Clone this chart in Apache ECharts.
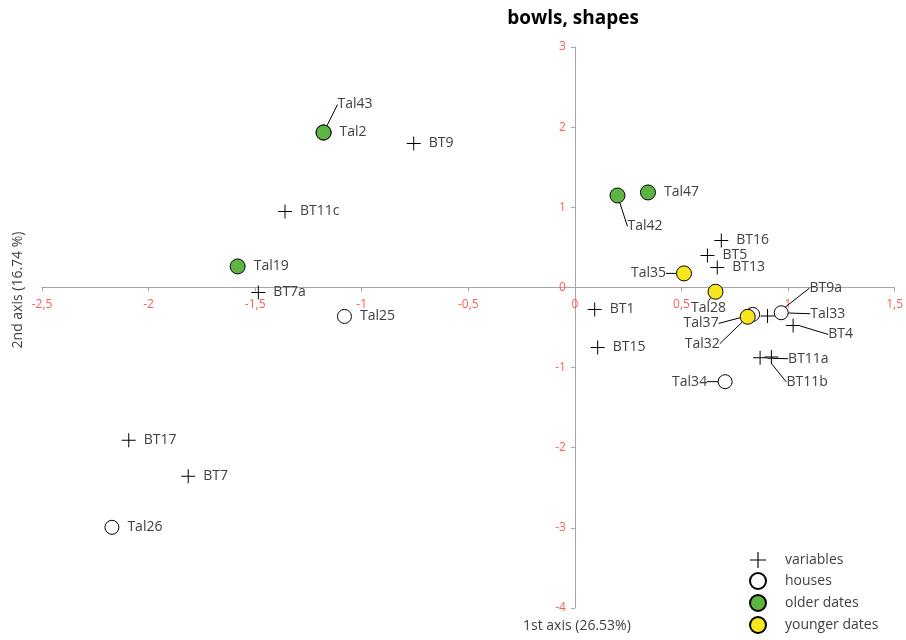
<!DOCTYPE html>
<html>
<head>
<meta charset="utf-8">
<title>bowls, shapes</title>
<script src="https://cdn.jsdelivr.net/npm/echarts@6/dist/echarts.min.js"></script>
<style>
  html, body { margin: 0; padding: 0; background: #fff; }
  #chart { width: 906px; height: 640px; }
</style>
</head>
<body>
<div id="chart"></div>
<script>
// Correspondence analysis of bowl shapes: variables and houses on the first two axes.
const chartTitle = 'bowls, shapes';
const xAxisTitle = '1st axis (26.53%)';
const yAxisTitle = '2nd axis (16.74 %)';
const xTicks = { min: -2.5, max: 1.5, step: 0.5 };
const yTicks = { min: -4, max: 3, step: 1 };

// variables (shape attributes)
const variableNames = ['BT9', 'BT11c', 'BT7a', 'BT17', 'BT7', 'BT1', 'BT15', 'BT16', 'BT5', 'BT13', 'BT9a', 'BT4', 'BT11a', 'BT11b'];
const variableX = [-0.756, -1.360, -1.485, -2.093, -1.814, 0.093, 0.107, 0.687, 0.622, 0.668, 0.904, 1.024, 0.869, 0.922];
const variableY = [1.796, 0.948, -0.062, -1.908, -2.357, -0.274, -0.748, 0.586, 0.399, 0.249, -0.357, -0.474, -0.877, -0.869];

// houses without dating
const houseNames = ['Tal25', 'Tal26', 'Tal34', 'Tal33', 'Tal37'];
const houseX = [-1.081, -2.172, 0.705, 0.968, 0.834];
const houseY = [-0.362, -2.993, -1.176, -0.316, -0.337];

// houses with older dates
const olderNames = ['Tal2', 'Tal43', 'Tal19', 'Tal42', 'Tal47'];
const olderX = [-1.179, -1.179, -1.582, 0.200, 0.343];
const olderY = [1.933, 1.933, 0.262, 1.147, 1.185];

// houses with younger dates
const youngerNames = ['Tal35', 'Tal28', 'Tal32'];
const youngerX = [0.512, 0.660, 0.811];
const youngerY = [0.175, -0.054, -0.366];

// Labels pulled away from their point (pixel offset from the marker, text alignment);
// these get a leader line back to the marker.
const leaderLabels = {
  Tal43: [14, -28, 'left'],
  Tal42: [10, 31, 'left'],
  Tal35: [-18, 0, 'right'],
  Tal28: [-7, 16, 'center'],
  Tal37: [-34, 9, 'right'],
  Tal32: [-28, 27, 'right'],
  BT9a: [42, -28, 'left'],
  Tal33: [29, 1, 'left'],
  BT4: [35, 9, 'left'],
  BT11a: [28, 1, 'left'],
  BT11b: [15, 25, 'left'],
  Tal34: [-18, 0, 'right']
};

const FONT = '"Open Sans", "Noto Sans", sans-serif';
const TICK_RED = '#FF5B5B';
const AXIS_GREY = '#A6A6A6';
const PLUS = 'path://M0,6.5H14V7.5H0Z M6.5,0H7.5V14H6.5Z';
const GRID = { left: 42, right: 7, top: 47, bottom: 32 };
const W = 906, H = 640;

function points(names, xs, ys) {
  return names.map((n, i) => {
    const item = { name: n, value: [xs[i], ys[i]] };
    if (leaderLabels[n]) item.labelLine = { show: true };
    return item;
  });
}

function decimalComma(v) {
  return String(Math.round(v * 10) / 10).replace('.', ',');
}

const labelBase = {
  show: true,
  position: 'right',
  distance: 8,
  formatter: '{b}',
  color: '#404040',
  fontFamily: FONT,
  fontSize: 14
};

const lineBase = {
  show: false,
  lineStyle: { color: '#000', width: 1 }
};

function layoutFor(seriesNames) {
  return function (params) {
    const name = seriesNames[params.dataIndex];
    const shift = leaderLabels[name];
    if (!shift) return {};
    const cx = params.rect.x + params.rect.width / 2;
    const cy = params.rect.y + params.rect.height / 2;
    return { x: cx + shift[0], y: cy + shift[1], align: shift[2], verticalAlign: 'middle' };
  };
}

const chart = echarts.init(document.getElementById('chart'), null, { renderer: 'canvas', width: W, height: H });

chart.setOption({
  animation: false,
  backgroundColor: '#fff',
  title: {
    text: chartTitle,
    left: 568,
    top: 4,
    textAlign: 'center',
    textStyle: { fontFamily: FONT, fontWeight: 'bold', fontSize: 19, color: '#000' }
  },
  grid: Object.assign({ containLabel: false }, GRID),
  xAxis: {
    type: 'value',
    min: xTicks.min, max: xTicks.max, interval: xTicks.step,
    splitLine: { show: false },
    axisLine: { onZero: false, lineStyle: { color: AXIS_GREY, width: 1 } },
    axisTick: { show: true, length: 4, lineStyle: { color: AXIS_GREY } },
    axisLabel: { color: TICK_RED, fontFamily: FONT, fontSize: 12, margin: 11, formatter: decimalComma, showMinLabel: true, showMaxLabel: true }
  },
  yAxis: {
    type: 'value',
    min: yTicks.min, max: yTicks.max, interval: yTicks.step,
    splitLine: { show: false },
    axisLine: { onZero: false, lineStyle: { color: AXIS_GREY, width: 1 } },
    axisTick: { show: true, length: 4, lineStyle: { color: AXIS_GREY } },
    axisLabel: { color: TICK_RED, fontFamily: FONT, fontSize: 12, margin: 9, formatter: decimalComma }
  },
  legend: {
    orient: 'vertical',
    left: 749,
    top: 552,
    padding: 0,
    itemWidth: 16,
    itemHeight: 16,
    itemGap: 4,
    textStyle: { fontFamily: FONT, fontSize: 14, color: '#404040', padding: [0, 0, 0, 14] },
    data: ['variables', 'houses', 'older dates', 'younger dates']
  },
  graphic: [
    {
      type: 'text', left: 523, top: 619,
      style: { text: xAxisTitle, fontFamily: FONT, fontSize: 14, fill: '#404040' }
    },
    {
      type: 'text', x: 18, y: 290, rotation: Math.PI / 2,
      style: { text: yAxisTitle, fontFamily: FONT, fontSize: 14, fill: '#404040', align: 'center', verticalAlign: 'middle' }
    }
  ],
  series: [
    {
      name: 'variables',
      type: 'scatter',
      symbol: PLUS,
      symbolSize: 14,
      itemStyle: { color: '#000', opacity: 1 },
      label: labelBase,
      labelLine: lineBase,
      labelLayout: layoutFor(variableNames),
      data: points(variableNames, variableX, variableY)
    },
    {
      name: 'houses',
      type: 'scatter',
      symbol: 'circle',
      symbolSize: 14,
      itemStyle: { color: '#fff', borderColor: '#000', borderWidth: 1, opacity: 1 },
      label: labelBase,
      labelLine: lineBase,
      labelLayout: layoutFor(houseNames),
      data: points(houseNames, houseX, houseY)
    },
    {
      name: 'older dates',
      type: 'scatter',
      symbol: 'circle',
      symbolSize: 15,
      itemStyle: { color: '#5DB443', borderColor: '#000', borderWidth: 1, opacity: 1 },
      label: labelBase,
      labelLine: lineBase,
      labelLayout: layoutFor(olderNames),
      data: points(olderNames, olderX, olderY)
    },
    {
      name: 'younger dates',
      type: 'scatter',
      symbol: 'circle',
      symbolSize: 15,
      itemStyle: { color: '#F6E620', borderColor: '#000', borderWidth: 1, opacity: 1 },
      label: labelBase,
      labelLine: lineBase,
      labelLayout: layoutFor(youngerNames),
      data: points(youngerNames, youngerX, youngerY)
    }
  ]
});

// Move both axes (line, ticks and labels) so they cross at the origin.
const originX = chart.convertToPixel({ xAxisIndex: 0 }, 0);
const originY = chart.convertToPixel({ yAxisIndex: 0 }, 0);
chart.setOption({
  xAxis: { offset: -((H - GRID.bottom) - originY) },
  yAxis: { offset: -(originX - GRID.left) }
});
</script>
</body>
</html>
